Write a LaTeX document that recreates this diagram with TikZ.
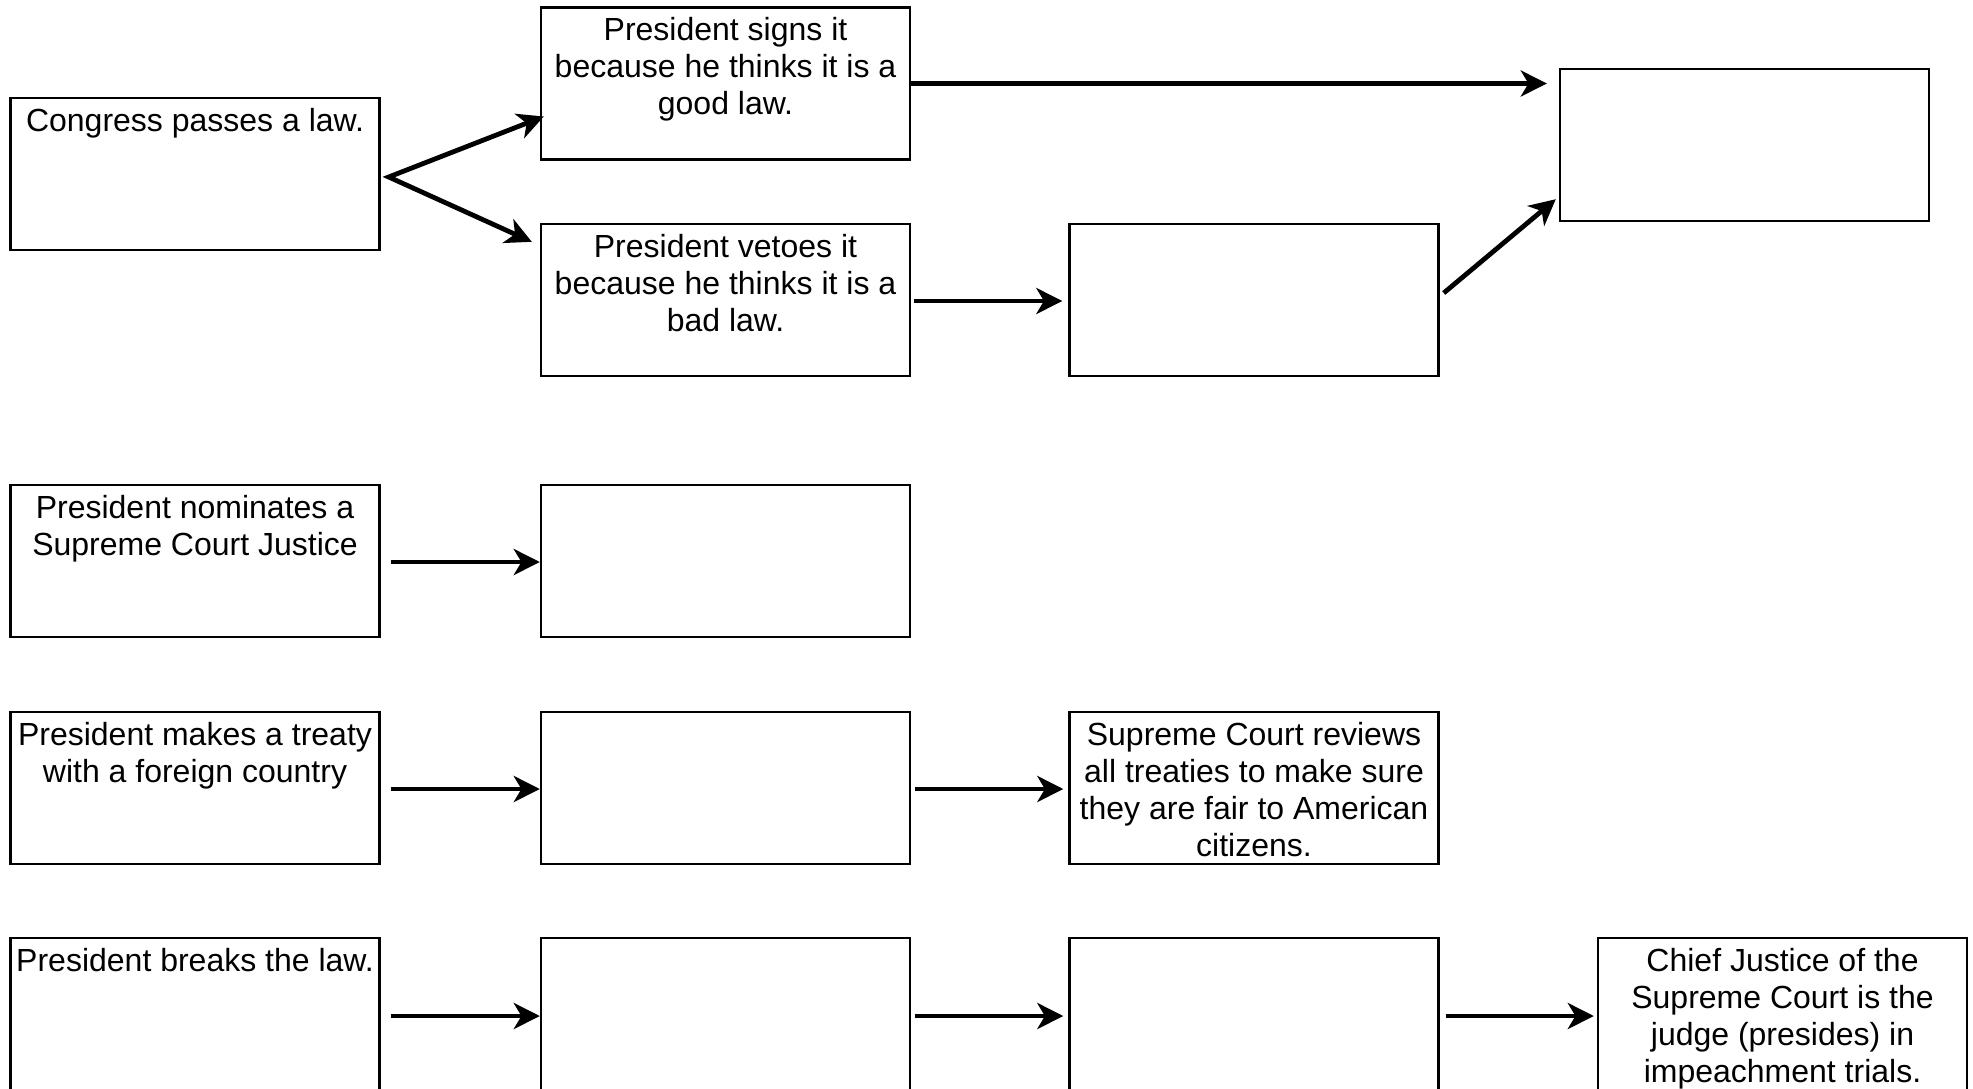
\documentclass[tikz,border=0pt]{standalone}
\usepackage{fontspec}
\setmainfont{Liberation Sans}
\usetikzlibrary{arrows.meta,calc}
\newcommand{\bt}[1]{\parbox[c][76pt][t]{182pt}{\centering\fontsize{16pt}{18.5pt}\selectfont\rule{0pt}{16.6pt}#1}}
\begin{document}
\begin{tikzpicture}[x=0.5pt,y=-0.5pt,
  box/.style={draw, line width=1.2pt, inner sep=0pt, minimum width=184.5pt, minimum height=76pt},
  arr/.style={line width=2.4pt, -{Stealth[length=13pt,width=13pt,inset=3.8pt]}},
  arrboth/.style={line width=2.4pt, {Stealth[length=13pt,width=13pt,inset=3.8pt]}-{Stealth[length=13pt,width=13pt,inset=3.8pt]}}]
\path[fill=white, use as bounding box] (0,0) rectangle (1973,1088);
\node[box] (cong) at (195,174) {\bt{Congress passes a law.}};
\node[box] (sign) at (725.5,83.5) {\bt{President signs it\\because he thinks it is a\\good law.}};
\node[box] (veto) at (725.5,300) {\bt{President vetoes it\\because he thinks it is a\\bad law.}};
\node[box] (e1) at (1254,300) {};
\node[box] (tr) at (1744.5,145) {};
\node[box] (nom) at (195,561) {\bt{President nominates a\\Supreme Court Justice}};
\node[box] (nom2) at (725.5,561) {};
\node[box] (tre) at (195,788) {\bt{President makes a treaty\\with a foreign country}};
\node[box] (tre2) at (725.5,788) {};
\node[box] (tre3) at (1254,788) {\bt{Supreme Court reviews\\all treaties to make sure\\they are fair to American\\citizens.}};
\node[box] (brk) at (195,1014) {\bt{President breaks the law.}};
\node[box] (brk2) at (725.5,1014) {};
\node[box] (brk3) at (1254,1014) {};
\node[box] (chief) at (1782.5,1014) {\bt{Chief Justice of the\\Supreme Court is the\\judge (presides) in\\impeachment trials.}};
\coordinate (split) at ($(cong.east)+(8,3)$);
\draw[arrboth] ($(sign.west)+(4,33)$) -- (split) -- ($(veto.north west)+(-8,19)$);
\draw[arr] (sign.east) -- ($(sign.east -| tr.west)+(-12,0)$);
\draw[arr] ($(veto.east)+(3,1)$) -- ($(e1.west)+(-6,1)$);
\draw[arr] ($(e1.east)+(4,-7)$) -- ($(tr.south west)+(-3,-23)$);
\draw[arr] ($(nom.east)+(10,1)$) -- ($(nom2.west)+(0,1)$);
\draw[arr] ($(tre.east)+(10,1)$) -- ($(tre2.west)+(0,1)$);
\draw[arr] ($(tre2.east)+(4,1)$) -- ($(tre3.west)+(-5,1)$);
\draw[arr] ($(brk.east)+(10,2)$) -- ($(brk2.west)+(0,2)$);
\draw[arr] ($(brk2.east)+(4,2)$) -- ($(brk3.west)+(-5,2)$);
\draw[arr] ($(brk3.east)+(6,2)$) -- ($(chief.west)+(-3,2)$);
\end{tikzpicture}
\end{document}
